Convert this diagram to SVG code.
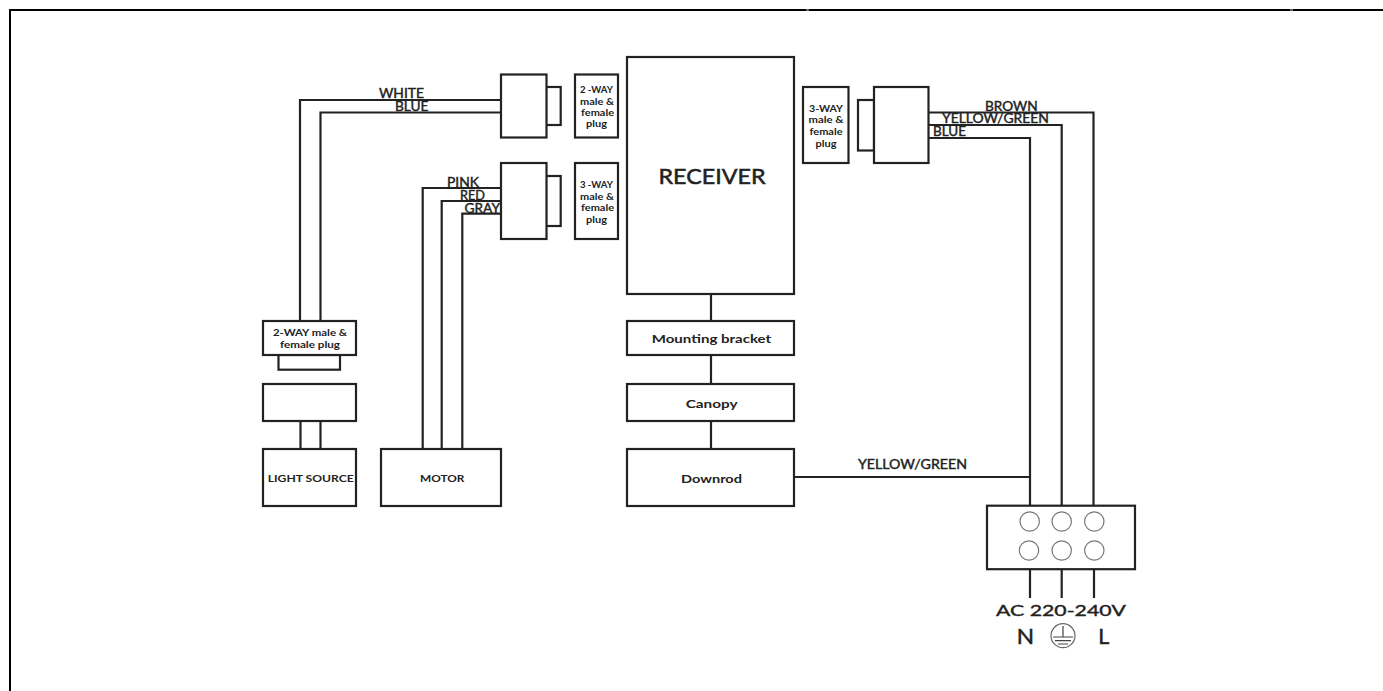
<svg xmlns="http://www.w3.org/2000/svg" width="1383" height="691" viewBox="0 0 1383 691">
<style>
.b{fill:#fff;stroke:#222;stroke-width:2.200}
.w{fill:none;stroke:#222;stroke-width:2.200}
.c{fill:none;stroke:#777;stroke-width:1.200}
text{font-family:Lato,"Liberation Sans",sans-serif;font-weight:700;fill:#222;text-anchor:start}
.p{font-size:8.500px}
.l{font-size:12.500px;font-weight:400;stroke:#222;stroke-width:.4}
.n{font-size:11.500px}
</style>
<rect width="1383" height="691" fill="#fff"/>
<path d="M10 691V10H1383" fill="none" stroke="#000" stroke-width="2"/>
<path d="M806 9h3v2h-3zM1290 9h3v2h-3z" fill="#666"/>
<g id="connectors">
<path class="w" d="M501 100H300V321M501 112.500H320.500V321"/>
<path class="w" d="M501 188H422.700V449M501 201H441.700V449M501 213.700H462.300V449"/>
<path class="w" d="M300.500 421V449M320.500 421V449"/>
<path class="w" d="M711 294V321M711 355V384M711 421V449"/>
<path class="w" d="M794 477H1030"/>
<path class="w" d="M928 112.500H1093.500V506M928 125H1061.700V506M928 138H1030V506"/>
<path class="w" d="M1030 569V598M1061.700 569V598M1094 569V598"/>
</g>
<g id="plug-white-blue"><rect class="b" x="546" y="87" width="14.700" height="38"/><rect class="b" x="501" y="74.500" width="45.500" height="63"/></g>
<g id="plug-motor"><rect class="b" x="546" y="176" width="14.700" height="50"/><rect class="b" x="501" y="163" width="45.500" height="76"/></g>
<g id="label-2way"><rect class="b" x="575" y="74.500" width="43" height="63"/><text class="p" x="580" y="93" textLength="33" lengthAdjust="spacingAndGlyphs">2 -WAY</text><text class="p" x="580" y="104.500" textLength="34" lengthAdjust="spacingAndGlyphs">male &amp;</text><text class="p" x="581" y="116" textLength="33" lengthAdjust="spacingAndGlyphs">female</text><text class="p" x="586" y="127" textLength="21" lengthAdjust="spacingAndGlyphs">plug</text></g>
<g id="label-3way"><rect class="b" x="575" y="163" width="43" height="76"/><text class="p" x="580" y="188" textLength="33" lengthAdjust="spacingAndGlyphs">3 -WAY</text><text class="p" x="580" y="199.500" textLength="34" lengthAdjust="spacingAndGlyphs">male &amp;</text><text class="p" x="581" y="211" textLength="33" lengthAdjust="spacingAndGlyphs">female</text><text class="p" x="586" y="223" textLength="21" lengthAdjust="spacingAndGlyphs">plug</text></g>
<g id="receiver"><rect class="b" x="627" y="57" width="167" height="237"/><text x="658.500" y="184" font-size="20.500" style="font-weight:400;stroke:#222;stroke-width:.5" textLength="107" lengthAdjust="spacingAndGlyphs">RECEIVER</text></g>
<g id="label-3way-right"><rect class="b" x="803" y="87" width="45.500" height="76"/><text class="p" x="809" y="112" textLength="34" lengthAdjust="spacingAndGlyphs">3-WAY</text><text class="p" x="808.500" y="123" textLength="35" lengthAdjust="spacingAndGlyphs">male &amp;</text><text class="p" x="809.500" y="135" textLength="33" lengthAdjust="spacingAndGlyphs">female</text><text class="p" x="815.500" y="147" textLength="21" lengthAdjust="spacingAndGlyphs">plug</text></g>
<g id="plug-mains"><rect class="b" x="858" y="100" width="16" height="50.500"/><rect class="b" x="874" y="87" width="54.500" height="76"/></g>
<g id="mounting-bracket"><rect class="b" x="627" y="321" width="167" height="34"/><text class="n" x="651.700" y="343" textLength="119.500" lengthAdjust="spacingAndGlyphs">Mounting bracket</text></g>
<g id="canopy"><rect class="b" x="627" y="384" width="167" height="37"/><text class="n" x="685.700" y="407.500" textLength="52" lengthAdjust="spacingAndGlyphs">Canopy</text></g>
<g id="downrod"><rect class="b" x="627" y="449" width="167" height="57"/><text class="n" x="681" y="482.500" textLength="61" lengthAdjust="spacingAndGlyphs">Downrod</text></g>
<g id="plug-2way-lower"><rect class="b" x="278.500" y="355" width="61.500" height="14.700"/><rect class="b" x="263" y="321" width="93" height="34"/><text class="p" x="273" y="336" textLength="74" lengthAdjust="spacingAndGlyphs">2-WAY male &amp;</text><text class="p" x="280" y="348" textLength="60" lengthAdjust="spacingAndGlyphs">female plug</text></g>
<g id="light-block"><rect class="b" x="263" y="384" width="93" height="37"/></g>
<g id="light-source"><rect class="b" x="263" y="449" width="93" height="57"/><text class="n" style="font-size:10px" x="267.700" y="481.700" textLength="86" lengthAdjust="spacingAndGlyphs">LIGHT SOURCE</text></g>
<g id="motor"><rect class="b" x="381" y="449" width="120" height="57"/><text class="n" style="font-size:10px" x="420" y="481.700" textLength="44.500" lengthAdjust="spacingAndGlyphs">MOTOR</text></g>
<g id="terminal"><rect class="b" x="987" y="505.700" width="148" height="63.500"/>
<circle class="c" cx="1029.700" cy="521.500" r="9.700"/><circle class="c" cx="1061.700" cy="521.500" r="9.700"/><circle class="c" cx="1094.300" cy="521.500" r="9.700"/>
<circle class="c" cx="1029" cy="550.500" r="9.700"/><circle class="c" cx="1061.700" cy="550.500" r="9.700"/><circle class="c" cx="1094.300" cy="550.500" r="9.700"/></g>
<g id="wire-labels">
<text class="l" x="379" y="98" textLength="45" lengthAdjust="spacingAndGlyphs">WHITE</text><text class="l" x="395" y="111" textLength="33.500" lengthAdjust="spacingAndGlyphs">BLUE</text>
<text class="l" x="447" y="187" textLength="32" lengthAdjust="spacingAndGlyphs">PINK</text><text class="l" x="460" y="200" textLength="25" lengthAdjust="spacingAndGlyphs">RED</text><text class="l" x="464.500" y="213" textLength="35.500" lengthAdjust="spacingAndGlyphs">GRAY</text>
<text class="l" x="985" y="110.700" textLength="52.700" lengthAdjust="spacingAndGlyphs">BROWN</text><text class="l" x="942" y="123" textLength="107" lengthAdjust="spacingAndGlyphs">YELLOW/GREEN</text><text class="l" x="933" y="136" textLength="33" lengthAdjust="spacingAndGlyphs">BLUE</text>
<text class="l" x="858" y="469" textLength="109" lengthAdjust="spacingAndGlyphs">YELLOW/GREEN</text>
</g>
<g id="power-label">
<text x="996" y="615.700" font-size="16" style="font-weight:400;stroke:#222;stroke-width:.4" textLength="130" lengthAdjust="spacingAndGlyphs">AC 220-240V</text>
<text x="1016.700" y="644" font-size="20.500" style="font-weight:400;stroke:#222;stroke-width:.5" textLength="17.300" lengthAdjust="spacingAndGlyphs">N</text><text x="1098.300" y="644" font-size="20.500" style="font-weight:400;stroke:#222;stroke-width:.5" textLength="11" lengthAdjust="spacingAndGlyphs">L</text>
<circle cx="1063" cy="635.700" r="12" fill="none" stroke="#666" stroke-width="1.200"/>
<path d="M1063 626V637M1053 637H1073M1055 640.700H1071M1058 644H1068" fill="none" stroke="#444" stroke-width="1.200"/>
</g>
</svg>
